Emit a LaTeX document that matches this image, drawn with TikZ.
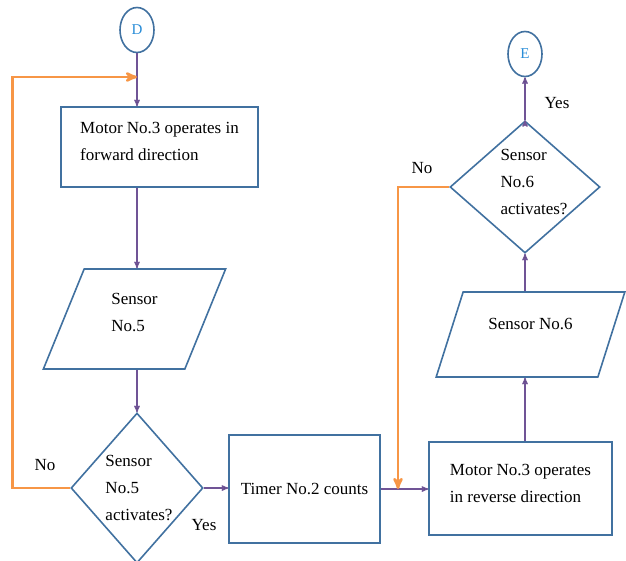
\documentclass[tikz,border=0pt]{standalone}
\usepackage{fontspec}
\setmainfont{Liberation Serif}
\newfontfamily\chartfont{Liberation Serif}
\usetikzlibrary{arrows,shapes.geometric}
\definecolor{flowblue}{RGB}{65,113,160}
\definecolor{flowpurple}{RGB}{112,84,150}
\definecolor{floworange}{RGB}{247,150,70}
\definecolor{letterblue}{RGB}{40,140,215}

\begin{document}
\begin{tikzpicture}[->,>=stealth',x=1pt,y=-1pt,line width=1.3pt,
    every node/.style={font=\chartfont\fontsize{17}{27}\selectfont}]
        \tikzstyle{proc}=[draw=flowblue, line width=1.6pt, rectangle, align=left]
        \tikzstyle{io}=[draw=flowblue, line width=1.6pt, trapezium, trapezium stretches=true, align=left]
        \tikzstyle{decide}=[draw=flowblue, line width=1.6pt, diamond]
        \tikzstyle{conn}=[draw=flowblue, line width=1.6pt, ellipse, minimum width=34pt, minimum height=45pt,
                          inner sep=0pt, text=letterblue, font=\chartfont\fontsize{15}{16}\selectfont]
        \tikzstyle{flow}=[draw=flowpurple]
        \tikzstyle{back}=[draw=floworange, line width=2.6pt]

        \useasboundingbox (0,0) rectangle (626,560);

        \node[conn]   (D)     at (137,30)      {D};
        \node[proc,minimum width=197pt,minimum height=80pt] (fwd) at (159.5,147)
                      {Motor No.3 operates in\\forward direction\\[-15pt]};
        \node[io,trapezium left angle=70,trapezium right angle=110,minimum width=183pt,minimum height=100pt]
                      (sens5) at (134.5,319)   {Sensor\\No.5\\[-13pt]};
        \node[decide,minimum width=132pt,minimum height=150pt,
              label={[align=left,xshift=2pt]center:Sensor\\No.5\\activates?}]
                      (dec5)  at (137,488)     {};
        \node[proc,minimum width=151pt,minimum height=108pt]  (timer) at (304.5,489)   {Timer No.2 counts};
        \node[proc,minimum width=183pt,minimum height=93pt] (rev) at (520.5,488.5)
                      {Motor No.3 operates\\in reverse direction\\[-17pt]};
        \node[io,trapezium left angle=65,trapezium right angle=115,minimum width=189pt,minimum height=85pt]
                      (sens6) at (530.5,334.5) {Sensor No.6\\[-6pt]};
        \node[decide,minimum width=150pt,minimum height=132pt,
              label={[align=left,xshift=9pt,yshift=5pt]center:Sensor\\No.6\\activates?}]
                      (dec6)  at (525,187)     {};
        \node[conn]   (E)     at (525,54)      {E};

        \coordinate (jnD) at (137,77);
        \coordinate (jnR) at (398,489);

        \path[flow] (D)                    edge (fwd.north -| D)
                    (fwd.south -| D)       edge (sens5.north -| D)
                    (sens5.south -| D)     edge (dec5.north)
                    (dec5.east)            edge (dec5.east -| timer.west)
                    (timer.east)           edge (timer.east -| rev.west)
                    (rev.north -| dec6)    edge (sens6.south -| dec6)
                    (sens6.north -| dec6)  edge (dec6.south)
                    (dec6.north)           edge (E.south);

        \draw[back] (dec5.west) -- ++(-58,0) |- (jnD);
        \draw[back] (dec6.west) -| (jnR);

        \node (no5)  at (45,465)  {No};
        \node (yes5) at (204,525) {Yes};
        \node (no6)  at (422,168) {No};
        \node (yes6) at (557,103) {Yes};
      \end{tikzpicture}
\end{document}
